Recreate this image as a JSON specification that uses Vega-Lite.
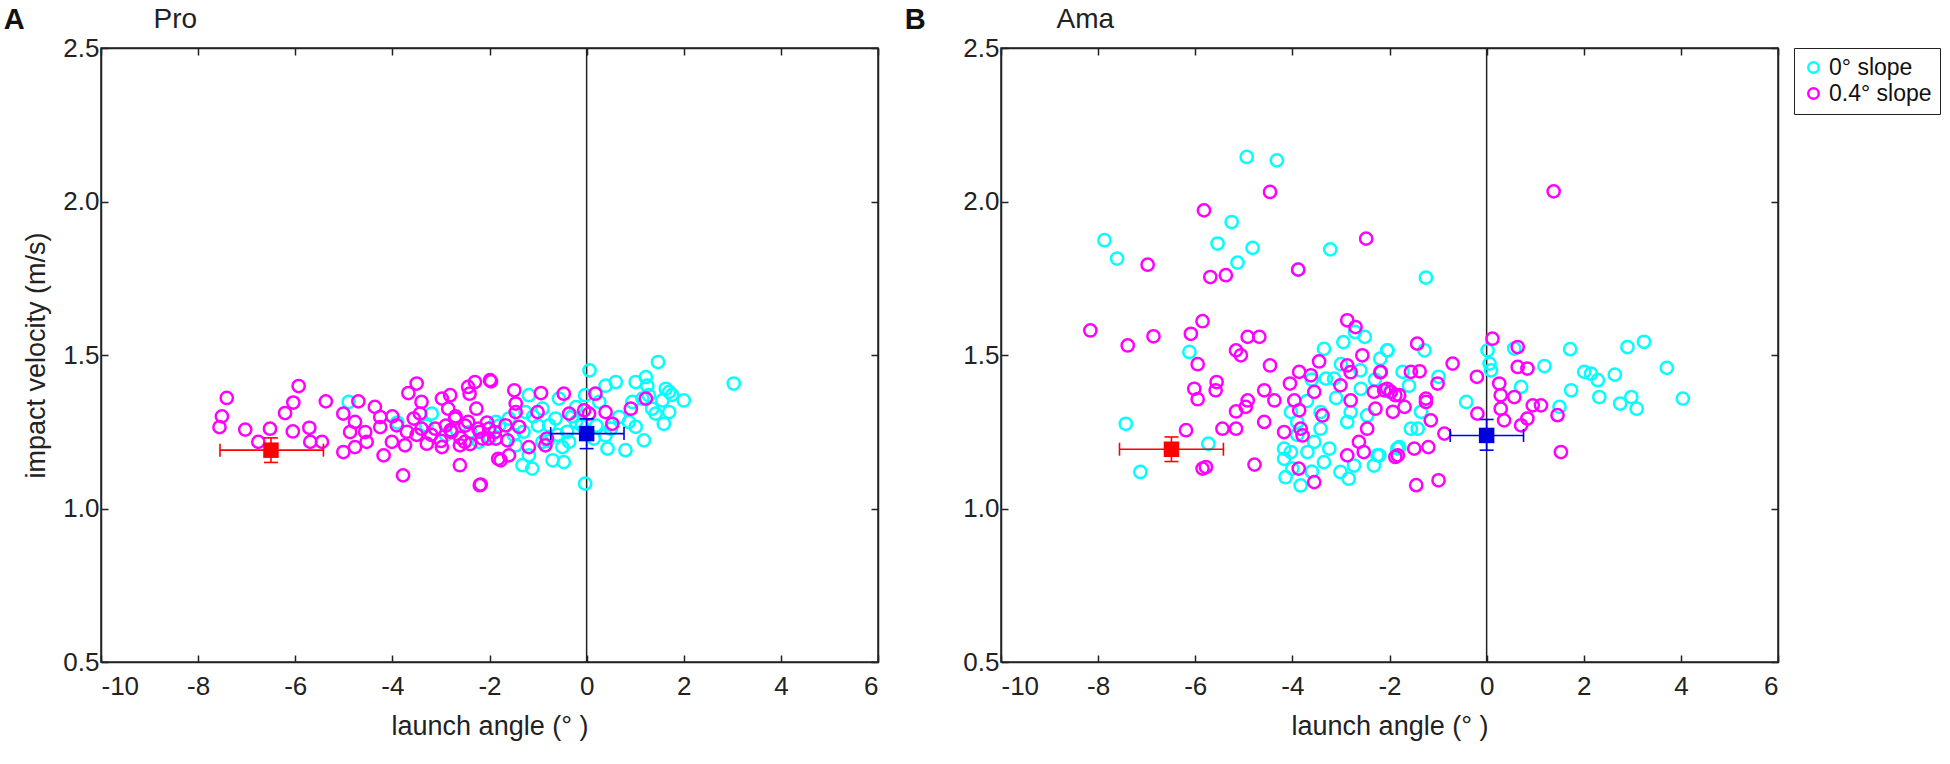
{
  "$schema": "https://vega.github.io/schema/vega-lite/v6.json",
  "background": "white",
  "padding": {"left": 3, "top": 4, "right": 2, "bottom": 2},
  "bounds": "flush",
  "spacing": 123,
  "datasets": {
    "pts": [
      {"p": "A", "s": "0° slope", "x": 1.47, "y": 1.477},
      {"p": "A", "s": "0° slope", "x": 3.03, "y": 1.407},
      {"p": "A", "s": "0° slope", "x": 0.06, "y": 1.45},
      {"p": "A", "s": "0° slope", "x": 0.6, "y": 1.412},
      {"p": "A", "s": "0° slope", "x": 0.39, "y": 1.4},
      {"p": "A", "s": "0° slope", "x": 1.01, "y": 1.412},
      {"p": "A", "s": "0° slope", "x": 1.22, "y": 1.428},
      {"p": "A", "s": "0° slope", "x": 1.25, "y": 1.4},
      {"p": "A", "s": "0° slope", "x": 1.63, "y": 1.39},
      {"p": "A", "s": "0° slope", "x": 1.7, "y": 1.38},
      {"p": "A", "s": "0° slope", "x": 1.76, "y": 1.37},
      {"p": "A", "s": "0° slope", "x": 2.0, "y": 1.352},
      {"p": "A", "s": "0° slope", "x": 1.56, "y": 1.352},
      {"p": "A", "s": "0° slope", "x": 1.15, "y": 1.358},
      {"p": "A", "s": "0° slope", "x": 0.94, "y": 1.347},
      {"p": "A", "s": "0° slope", "x": 1.35, "y": 1.325},
      {"p": "A", "s": "0° slope", "x": 1.7, "y": 1.314},
      {"p": "A", "s": "0° slope", "x": 1.59, "y": 1.276},
      {"p": "A", "s": "0° slope", "x": 1.42, "y": 1.309},
      {"p": "A", "s": "0° slope", "x": 1.01, "y": 1.266},
      {"p": "A", "s": "0° slope", "x": 1.18, "y": 1.222},
      {"p": "A", "s": "0° slope", "x": 0.8, "y": 1.19},
      {"p": "A", "s": "0° slope", "x": 0.43, "y": 1.195},
      {"p": "A", "s": "0° slope", "x": 0.39, "y": 1.238},
      {"p": "A", "s": "0° slope", "x": -0.03, "y": 1.081},
      {"p": "A", "s": "0° slope", "x": 0.15, "y": 1.228},
      {"p": "A", "s": "0° slope", "x": 0.26, "y": 1.347},
      {"p": "A", "s": "0° slope", "x": -0.03, "y": 1.369},
      {"p": "A", "s": "0° slope", "x": -0.47, "y": 1.151},
      {"p": "A", "s": "0° slope", "x": -0.7, "y": 1.157},
      {"p": "A", "s": "0° slope", "x": -1.12, "y": 1.13},
      {"p": "A", "s": "0° slope", "x": -1.32, "y": 1.141},
      {"p": "A", "s": "0° slope", "x": -1.19, "y": 1.173},
      {"p": "A", "s": "0° slope", "x": -1.46, "y": 1.206},
      {"p": "A", "s": "0° slope", "x": -0.91, "y": 1.217},
      {"p": "A", "s": "0° slope", "x": -0.91, "y": 1.325},
      {"p": "A", "s": "0° slope", "x": -0.64, "y": 1.293},
      {"p": "A", "s": "0° slope", "x": -0.36, "y": 1.217},
      {"p": "A", "s": "0° slope", "x": -0.22, "y": 1.282},
      {"p": "A", "s": "0° slope", "x": -1.26, "y": 1.314},
      {"p": "A", "s": "0° slope", "x": -1.6, "y": 1.293},
      {"p": "A", "s": "0° slope", "x": -1.87, "y": 1.282},
      {"p": "A", "s": "0° slope", "x": -2.22, "y": 1.217},
      {"p": "A", "s": "0° slope", "x": -1.19, "y": 1.369},
      {"p": "A", "s": "0° slope", "x": -0.57, "y": 1.358},
      {"p": "A", "s": "0° slope", "x": -0.22, "y": 1.33},
      {"p": "A", "s": "0° slope", "x": -0.77, "y": 1.271},
      {"p": "A", "s": "0° slope", "x": 0.67, "y": 1.298},
      {"p": "A", "s": "0° slope", "x": 0.87, "y": 1.282},
      {"p": "A", "s": "0° slope", "x": 1.28, "y": 1.369},
      {"p": "A", "s": "0° slope", "x": -0.6, "y": 1.24},
      {"p": "A", "s": "0° slope", "x": -0.4, "y": 1.25},
      {"p": "A", "s": "0° slope", "x": -0.8, "y": 1.22},
      {"p": "A", "s": "0° slope", "x": -0.3, "y": 1.3},
      {"p": "A", "s": "0° slope", "x": -0.1, "y": 1.27},
      {"p": "A", "s": "0° slope", "x": -1.0, "y": 1.27},
      {"p": "A", "s": "0° slope", "x": 0.2, "y": 1.27},
      {"p": "A", "s": "0° slope", "x": 0.5, "y": 1.26},
      {"p": "A", "s": "0° slope", "x": -0.5, "y": 1.2},
      {"p": "A", "s": "0° slope", "x": -1.3, "y": 1.25},
      {"p": "A", "s": "0° slope", "x": -1.5, "y": 1.24},
      {"p": "A", "s": "0° slope", "x": -1.1, "y": 1.3},
      {"p": "A", "s": "0° slope", "x": -4.9, "y": 1.347},
      {"p": "A", "s": "0° slope", "x": -3.19, "y": 1.309},
      {"p": "A", "s": "0° slope", "x": -3.9, "y": 1.28},
      {"p": "A", "s": "0° slope", "x": -3.3, "y": 1.27},
      {"p": "A", "s": "0° slope", "x": -2.9, "y": 1.24},
      {"p": "A", "s": "0° slope", "x": -2.4, "y": 1.25},
      {"p": "A", "s": "0° slope", "x": -2.0, "y": 1.23},
      {"p": "A", "s": "0° slope", "x": -1.8, "y": 1.27},
      {"p": "A", "s": "0.4° slope", "x": -7.41, "y": 1.36},
      {"p": "A", "s": "0.4° slope", "x": -7.51, "y": 1.3},
      {"p": "A", "s": "0.4° slope", "x": -7.56, "y": 1.265},
      {"p": "A", "s": "0.4° slope", "x": -7.03, "y": 1.257},
      {"p": "A", "s": "0.4° slope", "x": -6.52, "y": 1.26},
      {"p": "A", "s": "0.4° slope", "x": -6.76, "y": 1.217},
      {"p": "A", "s": "0.4° slope", "x": -5.93, "y": 1.399},
      {"p": "A", "s": "0.4° slope", "x": -6.04, "y": 1.345},
      {"p": "A", "s": "0.4° slope", "x": -6.21, "y": 1.311},
      {"p": "A", "s": "0.4° slope", "x": -6.05, "y": 1.251},
      {"p": "A", "s": "0.4° slope", "x": -5.71, "y": 1.263},
      {"p": "A", "s": "0.4° slope", "x": -5.69, "y": 1.217},
      {"p": "A", "s": "0.4° slope", "x": -5.45, "y": 1.217},
      {"p": "A", "s": "0.4° slope", "x": -5.37, "y": 1.349},
      {"p": "A", "s": "0.4° slope", "x": -5.01, "y": 1.309},
      {"p": "A", "s": "0.4° slope", "x": -4.7, "y": 1.349},
      {"p": "A", "s": "0.4° slope", "x": -5.01, "y": 1.184},
      {"p": "A", "s": "0.4° slope", "x": -4.77, "y": 1.2},
      {"p": "A", "s": "0.4° slope", "x": -4.87, "y": 1.249},
      {"p": "A", "s": "0.4° slope", "x": -4.56, "y": 1.249},
      {"p": "A", "s": "0.4° slope", "x": -4.53, "y": 1.217},
      {"p": "A", "s": "0.4° slope", "x": -4.77, "y": 1.282},
      {"p": "A", "s": "0.4° slope", "x": -4.36, "y": 1.331},
      {"p": "A", "s": "0.4° slope", "x": -4.25, "y": 1.298},
      {"p": "A", "s": "0.4° slope", "x": -4.25, "y": 1.265},
      {"p": "A", "s": "0.4° slope", "x": -4.18, "y": 1.173},
      {"p": "A", "s": "0.4° slope", "x": -4.01, "y": 1.217},
      {"p": "A", "s": "0.4° slope", "x": -3.91, "y": 1.271},
      {"p": "A", "s": "0.4° slope", "x": -3.78, "y": 1.108},
      {"p": "A", "s": "0.4° slope", "x": -3.74, "y": 1.206},
      {"p": "A", "s": "0.4° slope", "x": -3.67, "y": 1.376},
      {"p": "A", "s": "0.4° slope", "x": -3.5, "y": 1.407},
      {"p": "A", "s": "0.4° slope", "x": -3.4, "y": 1.347},
      {"p": "A", "s": "0.4° slope", "x": -3.43, "y": 1.309},
      {"p": "A", "s": "0.4° slope", "x": -3.29, "y": 1.211},
      {"p": "A", "s": "0.4° slope", "x": -3.12, "y": 1.26},
      {"p": "A", "s": "0.4° slope", "x": -2.98, "y": 1.358},
      {"p": "A", "s": "0.4° slope", "x": -2.81, "y": 1.369},
      {"p": "A", "s": "0.4° slope", "x": -2.85, "y": 1.325},
      {"p": "A", "s": "0.4° slope", "x": -2.71, "y": 1.293},
      {"p": "A", "s": "0.4° slope", "x": -2.98, "y": 1.2},
      {"p": "A", "s": "0.4° slope", "x": -2.78, "y": 1.249},
      {"p": "A", "s": "0.4° slope", "x": -2.61, "y": 1.141},
      {"p": "A", "s": "0.4° slope", "x": -2.44, "y": 1.396},
      {"p": "A", "s": "0.4° slope", "x": -2.3, "y": 1.412},
      {"p": "A", "s": "0.4° slope", "x": -2.41, "y": 1.374},
      {"p": "A", "s": "0.4° slope", "x": -1.99, "y": 1.418},
      {"p": "A", "s": "0.4° slope", "x": -2.27, "y": 1.325},
      {"p": "A", "s": "0.4° slope", "x": -2.44, "y": 1.282},
      {"p": "A", "s": "0.4° slope", "x": -2.51, "y": 1.217},
      {"p": "A", "s": "0.4° slope", "x": -2.23, "y": 1.26},
      {"p": "A", "s": "0.4° slope", "x": -2.2, "y": 1.076},
      {"p": "A", "s": "0.4° slope", "x": -1.89, "y": 1.249},
      {"p": "A", "s": "0.4° slope", "x": -1.82, "y": 1.162},
      {"p": "A", "s": "0.4° slope", "x": -2.03, "y": 1.228},
      {"p": "A", "s": "0.4° slope", "x": -3.4, "y": 1.26},
      {"p": "A", "s": "0.4° slope", "x": -3.56, "y": 1.293},
      {"p": "A", "s": "0.4° slope", "x": -2.61, "y": 1.206},
      {"p": "A", "s": "0.4° slope", "x": -3.2, "y": 1.24},
      {"p": "A", "s": "0.4° slope", "x": -2.9, "y": 1.27},
      {"p": "A", "s": "0.4° slope", "x": -2.6, "y": 1.23},
      {"p": "A", "s": "0.4° slope", "x": -2.5, "y": 1.27},
      {"p": "A", "s": "0.4° slope", "x": -2.2, "y": 1.25},
      {"p": "A", "s": "0.4° slope", "x": -2.7, "y": 1.3},
      {"p": "A", "s": "0.4° slope", "x": -3.0, "y": 1.22},
      {"p": "A", "s": "0.4° slope", "x": -2.4, "y": 1.21},
      {"p": "A", "s": "0.4° slope", "x": -2.05, "y": 1.28},
      {"p": "A", "s": "0.4° slope", "x": -3.5, "y": 1.24},
      {"p": "A", "s": "0.4° slope", "x": -2.8, "y": 1.255},
      {"p": "A", "s": "0.4° slope", "x": -3.7, "y": 1.25},
      {"p": "A", "s": "0.4° slope", "x": -4.0, "y": 1.3},
      {"p": "A", "s": "0.4° slope", "x": -1.97, "y": 1.414},
      {"p": "A", "s": "0.4° slope", "x": -1.49, "y": 1.385},
      {"p": "A", "s": "0.4° slope", "x": -0.94, "y": 1.376},
      {"p": "A", "s": "0.4° slope", "x": -0.47, "y": 1.374},
      {"p": "A", "s": "0.4° slope", "x": 0.18, "y": 1.374},
      {"p": "A", "s": "0.4° slope", "x": 1.22, "y": 1.358},
      {"p": "A", "s": "0.4° slope", "x": 0.91, "y": 1.325},
      {"p": "A", "s": "0.4° slope", "x": 0.39, "y": 1.314},
      {"p": "A", "s": "0.4° slope", "x": 0.53, "y": 1.276},
      {"p": "A", "s": "0.4° slope", "x": -0.36, "y": 1.309},
      {"p": "A", "s": "0.4° slope", "x": -0.05, "y": 1.32},
      {"p": "A", "s": "0.4° slope", "x": -1.01, "y": 1.314},
      {"p": "A", "s": "0.4° slope", "x": -1.46, "y": 1.342},
      {"p": "A", "s": "0.4° slope", "x": -1.46, "y": 1.314},
      {"p": "A", "s": "0.4° slope", "x": -1.39, "y": 1.266},
      {"p": "A", "s": "0.4° slope", "x": -1.67, "y": 1.271},
      {"p": "A", "s": "0.4° slope", "x": -2.01, "y": 1.26},
      {"p": "A", "s": "0.4° slope", "x": -2.15, "y": 1.228},
      {"p": "A", "s": "0.4° slope", "x": -1.87, "y": 1.228},
      {"p": "A", "s": "0.4° slope", "x": -1.63, "y": 1.222},
      {"p": "A", "s": "0.4° slope", "x": -1.6, "y": 1.173},
      {"p": "A", "s": "0.4° slope", "x": -1.77, "y": 1.157},
      {"p": "A", "s": "0.4° slope", "x": -1.19, "y": 1.2},
      {"p": "A", "s": "0.4° slope", "x": -0.82, "y": 1.228},
      {"p": "A", "s": "0.4° slope", "x": -0.85, "y": 1.206},
      {"p": "A", "s": "0.4° slope", "x": -2.18, "y": 1.078},
      {"p": "A", "s": "0.4° slope", "x": 0.05, "y": 1.309},
      {"p": "B", "s": "0° slope", "x": -4.94, "y": 2.145},
      {"p": "B", "s": "0° slope", "x": -4.32, "y": 2.134},
      {"p": "B", "s": "0° slope", "x": -5.25, "y": 1.933},
      {"p": "B", "s": "0° slope", "x": -7.87, "y": 1.874},
      {"p": "B", "s": "0° slope", "x": -7.61, "y": 1.814},
      {"p": "B", "s": "0° slope", "x": -5.54, "y": 1.863},
      {"p": "B", "s": "0° slope", "x": -4.82, "y": 1.849},
      {"p": "B", "s": "0° slope", "x": -5.13, "y": 1.801},
      {"p": "B", "s": "0° slope", "x": -3.88, "y": 1.778},
      {"p": "B", "s": "0° slope", "x": -3.22, "y": 1.844},
      {"p": "B", "s": "0° slope", "x": -6.12, "y": 1.51},
      {"p": "B", "s": "0° slope", "x": -7.43, "y": 1.276},
      {"p": "B", "s": "0° slope", "x": -5.73, "y": 1.211},
      {"p": "B", "s": "0° slope", "x": -7.13, "y": 1.119},
      {"p": "B", "s": "0° slope", "x": -2.95, "y": 1.542},
      {"p": "B", "s": "0° slope", "x": -2.51, "y": 1.559},
      {"p": "B", "s": "0° slope", "x": -2.71, "y": 1.575},
      {"p": "B", "s": "0° slope", "x": -3.35, "y": 1.52},
      {"p": "B", "s": "0° slope", "x": -2.05, "y": 1.515},
      {"p": "B", "s": "0° slope", "x": -2.19, "y": 1.488},
      {"p": "B", "s": "0° slope", "x": -3.31, "y": 1.423},
      {"p": "B", "s": "0° slope", "x": -3.14, "y": 1.423},
      {"p": "B", "s": "0° slope", "x": -2.59, "y": 1.39},
      {"p": "B", "s": "0° slope", "x": -2.8, "y": 1.314},
      {"p": "B", "s": "0° slope", "x": -2.87, "y": 1.282},
      {"p": "B", "s": "0° slope", "x": -2.46, "y": 1.303},
      {"p": "B", "s": "0° slope", "x": -3.42, "y": 1.314},
      {"p": "B", "s": "0° slope", "x": -3.42, "y": 1.26},
      {"p": "B", "s": "0° slope", "x": -3.55, "y": 1.217},
      {"p": "B", "s": "0° slope", "x": -4.17, "y": 1.195},
      {"p": "B", "s": "0° slope", "x": -4.17, "y": 1.162},
      {"p": "B", "s": "0° slope", "x": -4.03, "y": 1.184},
      {"p": "B", "s": "0° slope", "x": -3.69, "y": 1.184},
      {"p": "B", "s": "0° slope", "x": -3.24, "y": 1.195},
      {"p": "B", "s": "0° slope", "x": -3.35, "y": 1.151},
      {"p": "B", "s": "0° slope", "x": -4.14, "y": 1.102},
      {"p": "B", "s": "0° slope", "x": -3.83, "y": 1.075},
      {"p": "B", "s": "0° slope", "x": -3.01, "y": 1.119},
      {"p": "B", "s": "0° slope", "x": -2.84, "y": 1.097},
      {"p": "B", "s": "0° slope", "x": -2.25, "y": 1.173},
      {"p": "B", "s": "0° slope", "x": -2.32, "y": 1.14},
      {"p": "B", "s": "0° slope", "x": -2.73, "y": 1.14},
      {"p": "B", "s": "0° slope", "x": -3.9, "y": 1.282},
      {"p": "B", "s": "0° slope", "x": -4.03, "y": 1.314},
      {"p": "B", "s": "0° slope", "x": -1.84, "y": 1.195},
      {"p": "B", "s": "0° slope", "x": -3.7, "y": 1.35},
      {"p": "B", "s": "0° slope", "x": -3.9, "y": 1.24},
      {"p": "B", "s": "0° slope", "x": -4.0, "y": 1.13},
      {"p": "B", "s": "0° slope", "x": -3.6, "y": 1.12},
      {"p": "B", "s": "0° slope", "x": -3.1, "y": 1.36},
      {"p": "B", "s": "0° slope", "x": -2.6, "y": 1.45},
      {"p": "B", "s": "0° slope", "x": -2.3, "y": 1.42},
      {"p": "B", "s": "0° slope", "x": -3.0, "y": 1.47},
      {"p": "B", "s": "0° slope", "x": -3.6, "y": 1.42},
      {"p": "B", "s": "0° slope", "x": -1.25, "y": 1.752},
      {"p": "B", "s": "0° slope", "x": 0.57, "y": 1.521},
      {"p": "B", "s": "0° slope", "x": 0.02, "y": 1.515},
      {"p": "B", "s": "0° slope", "x": 0.06, "y": 1.472},
      {"p": "B", "s": "0° slope", "x": 0.09, "y": 1.45},
      {"p": "B", "s": "0° slope", "x": 1.19, "y": 1.464},
      {"p": "B", "s": "0° slope", "x": 1.72, "y": 1.519},
      {"p": "B", "s": "0° slope", "x": 2.9, "y": 1.526},
      {"p": "B", "s": "0° slope", "x": 3.24, "y": 1.543},
      {"p": "B", "s": "0° slope", "x": 2.01, "y": 1.445},
      {"p": "B", "s": "0° slope", "x": 2.15, "y": 1.439},
      {"p": "B", "s": "0° slope", "x": 2.29, "y": 1.418},
      {"p": "B", "s": "0° slope", "x": 2.64, "y": 1.436},
      {"p": "B", "s": "0° slope", "x": 3.71, "y": 1.458},
      {"p": "B", "s": "0° slope", "x": 1.74, "y": 1.385},
      {"p": "B", "s": "0° slope", "x": 2.32, "y": 1.363},
      {"p": "B", "s": "0° slope", "x": 2.75, "y": 1.342},
      {"p": "B", "s": "0° slope", "x": 2.98, "y": 1.363},
      {"p": "B", "s": "0° slope", "x": 3.09, "y": 1.325},
      {"p": "B", "s": "0° slope", "x": 4.04, "y": 1.358},
      {"p": "B", "s": "0° slope", "x": 0.71, "y": 1.396},
      {"p": "B", "s": "0° slope", "x": 1.5, "y": 1.331},
      {"p": "B", "s": "0° slope", "x": -1.28, "y": 1.515},
      {"p": "B", "s": "0° slope", "x": -2.04, "y": 1.515},
      {"p": "B", "s": "0° slope", "x": -1.73, "y": 1.445},
      {"p": "B", "s": "0° slope", "x": -0.99, "y": 1.429},
      {"p": "B", "s": "0° slope", "x": -0.42, "y": 1.347},
      {"p": "B", "s": "0° slope", "x": -1.56, "y": 1.26},
      {"p": "B", "s": "0° slope", "x": -1.42, "y": 1.26},
      {"p": "B", "s": "0° slope", "x": -1.8, "y": 1.2},
      {"p": "B", "s": "0° slope", "x": -2.21, "y": 1.173},
      {"p": "B", "s": "0° slope", "x": -1.35, "y": 1.315},
      {"p": "B", "s": "0° slope", "x": -1.6, "y": 1.4},
      {"p": "B", "s": "0° slope", "x": -2.0, "y": 1.38},
      {"p": "B", "s": "0.4° slope", "x": -4.46, "y": 2.031},
      {"p": "B", "s": "0.4° slope", "x": -5.82, "y": 1.971},
      {"p": "B", "s": "0.4° slope", "x": -6.98, "y": 1.794},
      {"p": "B", "s": "0.4° slope", "x": -5.69, "y": 1.754},
      {"p": "B", "s": "0.4° slope", "x": -5.37, "y": 1.76},
      {"p": "B", "s": "0.4° slope", "x": -3.88, "y": 1.778},
      {"p": "B", "s": "0.4° slope", "x": -2.48, "y": 1.879},
      {"p": "B", "s": "0.4° slope", "x": -8.16, "y": 1.58},
      {"p": "B", "s": "0.4° slope", "x": -7.39, "y": 1.531},
      {"p": "B", "s": "0.4° slope", "x": -6.86, "y": 1.561},
      {"p": "B", "s": "0.4° slope", "x": -6.09, "y": 1.569},
      {"p": "B", "s": "0.4° slope", "x": -5.85, "y": 1.61},
      {"p": "B", "s": "0.4° slope", "x": -5.95, "y": 1.47},
      {"p": "B", "s": "0.4° slope", "x": -6.02, "y": 1.39},
      {"p": "B", "s": "0.4° slope", "x": -5.95, "y": 1.356},
      {"p": "B", "s": "0.4° slope", "x": -5.56, "y": 1.412},
      {"p": "B", "s": "0.4° slope", "x": -5.58, "y": 1.385},
      {"p": "B", "s": "0.4° slope", "x": -4.92, "y": 1.559},
      {"p": "B", "s": "0.4° slope", "x": -4.68, "y": 1.559},
      {"p": "B", "s": "0.4° slope", "x": -5.16, "y": 1.515},
      {"p": "B", "s": "0.4° slope", "x": -5.06, "y": 1.499},
      {"p": "B", "s": "0.4° slope", "x": -4.46, "y": 1.466},
      {"p": "B", "s": "0.4° slope", "x": -4.92, "y": 1.352},
      {"p": "B", "s": "0.4° slope", "x": -4.96, "y": 1.331},
      {"p": "B", "s": "0.4° slope", "x": -5.16, "y": 1.316},
      {"p": "B", "s": "0.4° slope", "x": -5.16, "y": 1.26},
      {"p": "B", "s": "0.4° slope", "x": -5.44, "y": 1.26},
      {"p": "B", "s": "0.4° slope", "x": -6.19, "y": 1.255},
      {"p": "B", "s": "0.4° slope", "x": -5.78, "y": 1.135},
      {"p": "B", "s": "0.4° slope", "x": -5.85, "y": 1.13},
      {"p": "B", "s": "0.4° slope", "x": -4.78, "y": 1.143},
      {"p": "B", "s": "0.4° slope", "x": -4.58, "y": 1.282},
      {"p": "B", "s": "0.4° slope", "x": -4.58, "y": 1.385},
      {"p": "B", "s": "0.4° slope", "x": -4.37, "y": 1.352},
      {"p": "B", "s": "0.4° slope", "x": -4.17, "y": 1.249},
      {"p": "B", "s": "0.4° slope", "x": -4.05, "y": 1.407},
      {"p": "B", "s": "0.4° slope", "x": -3.86, "y": 1.445},
      {"p": "B", "s": "0.4° slope", "x": -3.96, "y": 1.352},
      {"p": "B", "s": "0.4° slope", "x": -3.86, "y": 1.32},
      {"p": "B", "s": "0.4° slope", "x": -3.83, "y": 1.26},
      {"p": "B", "s": "0.4° slope", "x": -3.79, "y": 1.238},
      {"p": "B", "s": "0.4° slope", "x": -3.62, "y": 1.434},
      {"p": "B", "s": "0.4° slope", "x": -3.45, "y": 1.479},
      {"p": "B", "s": "0.4° slope", "x": -3.55, "y": 1.38},
      {"p": "B", "s": "0.4° slope", "x": -3.38, "y": 1.303},
      {"p": "B", "s": "0.4° slope", "x": -3.87, "y": 1.13},
      {"p": "B", "s": "0.4° slope", "x": -3.55, "y": 1.086},
      {"p": "B", "s": "0.4° slope", "x": -2.87, "y": 1.613},
      {"p": "B", "s": "0.4° slope", "x": -2.7, "y": 1.591},
      {"p": "B", "s": "0.4° slope", "x": -2.56, "y": 1.499},
      {"p": "B", "s": "0.4° slope", "x": -2.87, "y": 1.466},
      {"p": "B", "s": "0.4° slope", "x": -2.8, "y": 1.444},
      {"p": "B", "s": "0.4° slope", "x": -2.19, "y": 1.444},
      {"p": "B", "s": "0.4° slope", "x": -3.01, "y": 1.401},
      {"p": "B", "s": "0.4° slope", "x": -2.8, "y": 1.352},
      {"p": "B", "s": "0.4° slope", "x": -2.46, "y": 1.26},
      {"p": "B", "s": "0.4° slope", "x": -2.63, "y": 1.217},
      {"p": "B", "s": "0.4° slope", "x": -2.87, "y": 1.173},
      {"p": "B", "s": "0.4° slope", "x": -2.53, "y": 1.184},
      {"p": "B", "s": "0.4° slope", "x": -2.32, "y": 1.38},
      {"p": "B", "s": "0.4° slope", "x": -2.05, "y": 1.39},
      {"p": "B", "s": "0.4° slope", "x": -1.88, "y": 1.369},
      {"p": "B", "s": "0.4° slope", "x": -2.29, "y": 1.325},
      {"p": "B", "s": "0.4° slope", "x": -1.88, "y": 1.168},
      {"p": "B", "s": "0.4° slope", "x": 1.38, "y": 2.033},
      {"p": "B", "s": "0.4° slope", "x": 0.12, "y": 1.553},
      {"p": "B", "s": "0.4° slope", "x": 0.64, "y": 1.526},
      {"p": "B", "s": "0.4° slope", "x": 0.64, "y": 1.461},
      {"p": "B", "s": "0.4° slope", "x": 0.84, "y": 1.456},
      {"p": "B", "s": "0.4° slope", "x": 1.46, "y": 1.304},
      {"p": "B", "s": "0.4° slope", "x": 1.53, "y": 1.184},
      {"p": "B", "s": "0.4° slope", "x": 0.26, "y": 1.407},
      {"p": "B", "s": "0.4° slope", "x": 0.29, "y": 1.369},
      {"p": "B", "s": "0.4° slope", "x": 0.57, "y": 1.363},
      {"p": "B", "s": "0.4° slope", "x": 0.95, "y": 1.336},
      {"p": "B", "s": "0.4° slope", "x": 1.12, "y": 1.336},
      {"p": "B", "s": "0.4° slope", "x": 0.84, "y": 1.293},
      {"p": "B", "s": "0.4° slope", "x": 0.71, "y": 1.271},
      {"p": "B", "s": "0.4° slope", "x": 0.29, "y": 1.325},
      {"p": "B", "s": "0.4° slope", "x": 0.36, "y": 1.287},
      {"p": "B", "s": "0.4° slope", "x": -0.19, "y": 1.309},
      {"p": "B", "s": "0.4° slope", "x": -0.2, "y": 1.429},
      {"p": "B", "s": "0.4° slope", "x": -0.7, "y": 1.472},
      {"p": "B", "s": "0.4° slope", "x": -1.43, "y": 1.537},
      {"p": "B", "s": "0.4° slope", "x": -2.18, "y": 1.445},
      {"p": "B", "s": "0.4° slope", "x": -1.56, "y": 1.445},
      {"p": "B", "s": "0.4° slope", "x": -1.38, "y": 1.447},
      {"p": "B", "s": "0.4° slope", "x": -1.01, "y": 1.407},
      {"p": "B", "s": "0.4° slope", "x": -1.25, "y": 1.358},
      {"p": "B", "s": "0.4° slope", "x": -1.25, "y": 1.347},
      {"p": "B", "s": "0.4° slope", "x": -1.97, "y": 1.38},
      {"p": "B", "s": "0.4° slope", "x": -1.8, "y": 1.369},
      {"p": "B", "s": "0.4° slope", "x": -2.11, "y": 1.385},
      {"p": "B", "s": "0.4° slope", "x": -1.69, "y": 1.331},
      {"p": "B", "s": "0.4° slope", "x": -1.93, "y": 1.315},
      {"p": "B", "s": "0.4° slope", "x": -1.15, "y": 1.287},
      {"p": "B", "s": "0.4° slope", "x": -0.87, "y": 1.244},
      {"p": "B", "s": "0.4° slope", "x": -1.49, "y": 1.195},
      {"p": "B", "s": "0.4° slope", "x": -1.2, "y": 1.2},
      {"p": "B", "s": "0.4° slope", "x": -1.83, "y": 1.173},
      {"p": "B", "s": "0.4° slope", "x": -1.45, "y": 1.076},
      {"p": "B", "s": "0.4° slope", "x": -0.99, "y": 1.092}
    ],
    "means": [
      {"p": "A", "s": "0.4° slope", "x": -6.5, "y": 1.19, "xlo": -7.55, "xhi": -5.42, "ylo": 1.15, "yhi": 1.23},
      {"p": "A", "s": "0° slope", "x": 0.0, "y": 1.244, "xlo": -0.74, "xhi": 0.77, "ylo": 1.195, "yhi": 1.292},
      {"p": "B", "s": "0.4° slope", "x": -6.49, "y": 1.193, "xlo": -7.56, "xhi": -5.42, "ylo": 1.153, "yhi": 1.233},
      {"p": "B", "s": "0° slope", "x": 0.0, "y": 1.238, "xlo": -0.75, "xhi": 0.76, "ylo": 1.19, "yhi": 1.29}
    ]
  },
  "hconcat": [
    {
      "width": 777,
      "height": 614,
      "title": {"text": "A", "anchor": "start", "frame": "bounds", "fontSize": 29, "fontWeight": "bold", "baseline": "alphabetic", "offset": -53, "dx": -19},
      "resolve": {"axis": {"x": "independent", "y": "independent"}},
      "layer": [
        {
          "data": {"values": [{"x": 0}]},
          "mark": {"type": "rule", "color": "#222", "strokeWidth": 1.5},
          "encoding": {
            "x": {"field": "x", "type": "quantitative", "scale": {"domain": [-10, 6], "nice": false},
              "axis": {"orient": "top", "labels": false, "values": [-10, -8, -6, -4, -2, 0, 2, 4, 6], "title": "Pro", "titleX": 52, "titleY": -21, "titleAlign": "left", "titleAnchor": null, "titleBaseline": "alphabetic", "titleFontSize": 28}}
          }
        },
        {
          "data": {"name": "pts"},
          "transform": [{"filter": "datum.p == 'A'"}],
          "mark": {"type": "point", "shape": "circle", "filled": false, "strokeWidth": 2.5, "size": 150, "opacity": 1},
          "encoding": {
            "x": {"field": "x", "type": "quantitative", "scale": {"domain": [-10, 6], "nice": false},
              "axis": {"orient": "bottom", "title": "launch angle (° )", "values": [-10, -8, -6, -4, -2, 0, 2, 4, 6], "labelExpr": "datum.value < 0 ? '-' + abs(datum.value) : '' + datum.value"}},
            "y": {"field": "y", "type": "quantitative", "scale": {"domain": [0.5, 2.5], "nice": false, "zero": false},
              "axis": {"orient": "left", "title": "impact velocity (m/s)", "values": [0.5, 1, 1.5, 2, 2.5], "format": ".1f"}},
            "color": {"field": "s", "type": "nominal", "scale": {"domain": ["0° slope", "0.4° slope"], "range": ["#00ffff", "#ff00ff"]},
              "legend": {"title": null, "orient": "right", "offset": 14, "strokeColor": "#222", "padding": 8, "labelFontSize": 23, "symbolType": "circle", "symbolSize": 110, "symbolStrokeWidth": 2.5, "rowPadding": 2, "labelOffset": 4, "labelColor": "#111"}}
          }
        },
        {
          "data": {"name": "means"},
          "transform": [{"filter": "datum.p == 'A'"}],
          "mark": {"type": "rule", "strokeWidth": 1.6},
          "encoding": {
            "x": {"field": "xlo", "type": "quantitative", "axis": null},
            "x2": {"field": "xhi"},
            "y": {"field": "y", "type": "quantitative", "axis": {"orient": "right", "labels": false, "title": null, "values": [0.5, 1, 1.5, 2, 2.5]}},
            "color": {"condition": {"test": "datum.s == '0.4° slope'", "value": "#ff0000"}, "value": "#0000dd"}
          }
        },
        {
          "data": {"name": "means"},
          "transform": [{"filter": "datum.p == 'A'"}],
          "mark": {"type": "rule", "strokeWidth": 1.6},
          "encoding": {
            "x": {"field": "x", "type": "quantitative", "axis": null},
            "y": {"field": "ylo", "type": "quantitative", "axis": null},
            "y2": {"field": "yhi"},
            "color": {"condition": {"test": "datum.s == '0.4° slope'", "value": "#ff0000"}, "value": "#0000dd"}
          }
        },
        {
          "data": {"name": "means"},
          "transform": [{"filter": "datum.p == 'A'"}, {"fold": ["xlo", "xhi"], "as": ["k", "cx"]}],
          "mark": {"type": "tick", "orient": "vertical", "size": 13, "thickness": 1.6, "opacity": 1},
          "encoding": {
            "x": {"field": "cx", "type": "quantitative", "axis": null},
            "y": {"field": "y", "type": "quantitative", "axis": null},
            "color": {"condition": {"test": "datum.s == '0.4° slope'", "value": "#ff0000"}, "value": "#0000dd"}
          }
        },
        {
          "data": {"name": "means"},
          "transform": [{"filter": "datum.p == 'A'"}, {"fold": ["ylo", "yhi"], "as": ["k", "cy"]}],
          "mark": {"type": "tick", "orient": "horizontal", "size": 14, "thickness": 1.6, "opacity": 1},
          "encoding": {
            "x": {"field": "x", "type": "quantitative", "axis": null},
            "y": {"field": "cy", "type": "quantitative", "axis": null},
            "color": {"condition": {"test": "datum.s == '0.4° slope'", "value": "#ff0000"}, "value": "#0000dd"}
          }
        },
        {
          "data": {"name": "means"},
          "transform": [{"filter": "datum.p == 'A'"}],
          "mark": {"type": "square", "filled": true, "size": 240, "opacity": 1},
          "encoding": {
            "x": {"field": "x", "type": "quantitative", "axis": null},
            "y": {"field": "y", "type": "quantitative", "axis": null},
            "color": {"condition": {"test": "datum.s == '0.4° slope'", "value": "#ff0000"}, "value": "#0000dd"}
          }
        }
      ]
    },
    {
      "width": 777,
      "height": 614,
      "title": {"text": "B", "anchor": "start", "frame": "bounds", "fontSize": 29, "fontWeight": "bold", "baseline": "alphabetic", "offset": -53, "dx": -58},
      "resolve": {"axis": {"x": "independent", "y": "independent"}},
      "layer": [
        {
          "data": {"values": [{"x": 0}]},
          "mark": {"type": "rule", "color": "#222", "strokeWidth": 1.5},
          "encoding": {
            "x": {"field": "x", "type": "quantitative", "scale": {"domain": [-10, 6], "nice": false},
              "axis": {"orient": "top", "labels": false, "values": [-10, -8, -6, -4, -2, 0, 2, 4, 6], "title": "Ama", "titleX": 55, "titleY": -21, "titleAlign": "left", "titleAnchor": null, "titleBaseline": "alphabetic", "titleFontSize": 28}}
          }
        },
        {
          "data": {"name": "pts"},
          "transform": [{"filter": "datum.p == 'B'"}],
          "mark": {"type": "point", "shape": "circle", "filled": false, "strokeWidth": 2.5, "size": 150, "opacity": 1},
          "encoding": {
            "x": {"field": "x", "type": "quantitative", "scale": {"domain": [-10, 6], "nice": false},
              "axis": {"orient": "bottom", "title": "launch angle (° )", "values": [-10, -8, -6, -4, -2, 0, 2, 4, 6], "labelExpr": "datum.value < 0 ? '-' + abs(datum.value) : '' + datum.value"}},
            "y": {"field": "y", "type": "quantitative", "scale": {"domain": [0.5, 2.5], "nice": false, "zero": false},
              "axis": {"orient": "left", "title": null, "values": [0.5, 1, 1.5, 2, 2.5], "format": ".1f"}},
            "color": {"field": "s", "type": "nominal", "scale": {"domain": ["0° slope", "0.4° slope"], "range": ["#00ffff", "#ff00ff"]},
              "legend": {"title": null, "orient": "right", "offset": 14, "strokeColor": "#222", "padding": 8, "labelFontSize": 23, "symbolType": "circle", "symbolSize": 110, "symbolStrokeWidth": 2.5, "rowPadding": 2, "labelOffset": 4, "labelColor": "#111"}}
          }
        },
        {
          "data": {"name": "means"},
          "transform": [{"filter": "datum.p == 'B'"}],
          "mark": {"type": "rule", "strokeWidth": 1.6},
          "encoding": {
            "x": {"field": "xlo", "type": "quantitative", "axis": null},
            "x2": {"field": "xhi"},
            "y": {"field": "y", "type": "quantitative", "axis": {"orient": "right", "labels": false, "title": null, "values": [0.5, 1, 1.5, 2, 2.5]}},
            "color": {"condition": {"test": "datum.s == '0.4° slope'", "value": "#ff0000"}, "value": "#0000dd"}
          }
        },
        {
          "data": {"name": "means"},
          "transform": [{"filter": "datum.p == 'B'"}],
          "mark": {"type": "rule", "strokeWidth": 1.6},
          "encoding": {
            "x": {"field": "x", "type": "quantitative", "axis": null},
            "y": {"field": "ylo", "type": "quantitative", "axis": null},
            "y2": {"field": "yhi"},
            "color": {"condition": {"test": "datum.s == '0.4° slope'", "value": "#ff0000"}, "value": "#0000dd"}
          }
        },
        {
          "data": {"name": "means"},
          "transform": [{"filter": "datum.p == 'B'"}, {"fold": ["xlo", "xhi"], "as": ["k", "cx"]}],
          "mark": {"type": "tick", "orient": "vertical", "size": 13, "thickness": 1.6, "opacity": 1},
          "encoding": {
            "x": {"field": "cx", "type": "quantitative", "axis": null},
            "y": {"field": "y", "type": "quantitative", "axis": null},
            "color": {"condition": {"test": "datum.s == '0.4° slope'", "value": "#ff0000"}, "value": "#0000dd"}
          }
        },
        {
          "data": {"name": "means"},
          "transform": [{"filter": "datum.p == 'B'"}, {"fold": ["ylo", "yhi"], "as": ["k", "cy"]}],
          "mark": {"type": "tick", "orient": "horizontal", "size": 14, "thickness": 1.6, "opacity": 1},
          "encoding": {
            "x": {"field": "x", "type": "quantitative", "axis": null},
            "y": {"field": "cy", "type": "quantitative", "axis": null},
            "color": {"condition": {"test": "datum.s == '0.4° slope'", "value": "#ff0000"}, "value": "#0000dd"}
          }
        },
        {
          "data": {"name": "means"},
          "transform": [{"filter": "datum.p == 'B'"}],
          "mark": {"type": "square", "filled": true, "size": 240, "opacity": 1},
          "encoding": {
            "x": {"field": "x", "type": "quantitative", "axis": null},
            "y": {"field": "y", "type": "quantitative", "axis": null},
            "color": {"condition": {"test": "datum.s == '0.4° slope'", "value": "#ff0000"}, "value": "#0000dd"}
          }
        }
      ]
    }
  ],
  "config": {
    "font": "Liberation Sans",
    "view": {"stroke": "#222", "strokeWidth": 1.5},
    "title": {"color": "#111"},
    "axis": {"grid": false, "domainColor": "#222", "domainWidth": 1.5, "tickColor": "#222", "tickWidth": 1.5, "tickSize": -7,
      "labelFontSize": 26, "labelColor": "#222", "titleFontSize": 27, "titleColor": "#222", "titleFontWeight": "normal"},
    "axisBottom": {"labelPadding": 18, "titlePadding": 14},
    "axisLeft": {"labelPadding": 9, "titlePadding": 12},
    "legend": {"labelFont": "Liberation Sans"}
  }
}
